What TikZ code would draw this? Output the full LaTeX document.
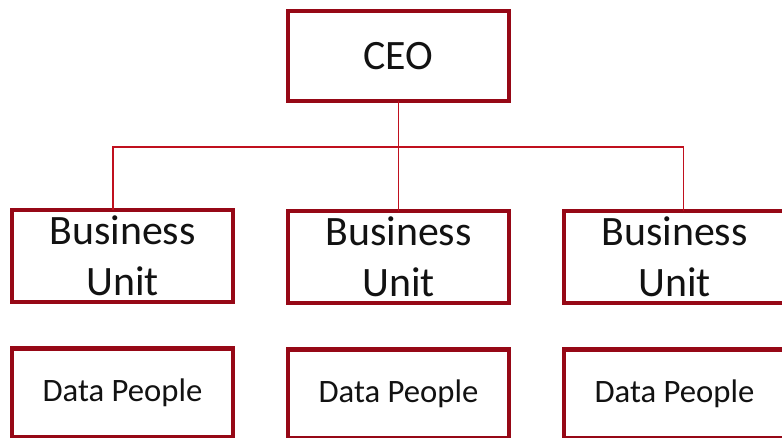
\documentclass[tikz,border=0pt]{standalone}
\usepackage{fontspec}
\setmainfont{Carlito}
\usepackage{xcolor}
\usepackage{tikz}
\usetikzlibrary{positioning, calc}

\definecolor{boxred}{RGB}{150,8,22}
\definecolor{linkred}{RGB}{192,16,30}

\tikzset{
    unitbox/.style = {draw = boxred, rectangle, line width = 2.3pt, outer sep = 0pt,
        minimum width = 4.42 cm, minimum height = 1.8 cm, align = center,
        text = black!93, font = \fontsize{23.8}{29}\selectfont},
    peoplebox/.style = {unitbox, minimum height = 1.78 cm,
        font = \fontsize{18.6}{22}\selectfont},
    link/.style = {draw = linkred, line width = 0.85pt}
}

\begin{document}
\begin{tikzpicture}
        \useasboundingbox (0,0) rectangle (15.64,8.76);
        \node [unitbox] (ceo) at (7.97,7.64) {CEO};
        \node [unitbox] (bu1) at (2.45,3.64) {Business\\Unit};
        \node [unitbox] (bu2) at (7.97,3.62) {Business\\Unit};
        \node [unitbox] (bu3) at (13.49,3.62) {Business\\Unit};
        \node [peoplebox] (dp1) at (2.45,0.90) {Data People};
        \node [peoplebox] (dp2) at (7.97,0.88) {Data People};
        \node [peoplebox] (dp3) at (13.49,0.88) {Data People};
        % reporting lines
        \draw [link] (ceo.south) -- ++ (0,-0.92) coordinate (split);
        \draw [link] (split) -- (bu2.north);
        \draw [link] ($(bu1.north) + (-0.19,0)$) |- (split) -| ($(bu3.north) + (0.18,0)$);
    \end{tikzpicture}
\end{document}
